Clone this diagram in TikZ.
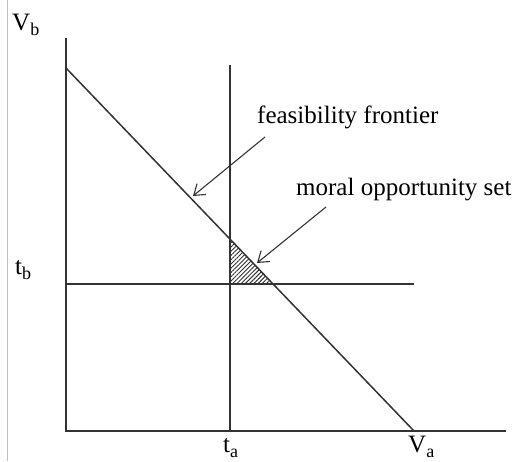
\documentclass[tikz,border=0pt]{standalone}
\usepackage{fontspec}
\setmainfont{Liberation Serif}
\usetikzlibrary{arrows.meta,patterns.meta}
\newcommand{\sbs}[1]{\raisebox{-0.22em}{\fontsize{18}{18}\selectfont #1}}
\tikzset{
  ln/.style={draw=black!80, line width=1.5pt},
  lbl/.style={inner sep=0pt, anchor=base west, font=\fontsize{25}{25}\selectfont},
  arr/.style={ln, line width=1.1pt, -{Straight Barb[length=10pt,width=14pt,line width=1.1pt]}}
}
\begin{document}
\begin{tikzpicture}[x=1pt,y=-1pt]
\useasboundingbox (0,0) rectangle (527,461);
\draw[black!25, line width=1.2pt] (7.5,0) -- (7.5,461);
\coordinate (O) at (66,431);
\coordinate (Ytop) at (66,38);
\coordinate (Xend) at (506,431);
\coordinate (F1) at (66,68);
\coordinate (F2) at (414,431);
\coordinate (Ta1) at (230,65);
\coordinate (Ta2) at (230,431);
\coordinate (Tb1) at (66,284);
\coordinate (Tb2) at (414,284);
\coordinate (H1) at (230,239);
\coordinate (H2) at (230,284);
\coordinate (H3) at (273.5,284);
\fill[pattern={Lines[angle=45,distance=3pt,line width=0.9pt]}, pattern color=black!80] (H1) -- (H2) -- (H3) -- cycle;
\draw[ln] (Ytop) -- (O) -- (Xend);
\draw[ln] (F1) -- (F2);
\draw[ln] (Ta1) -- (Ta2);
\draw[ln] (Tb1) -- (Tb2);
\node[lbl] (vb) at (12,30) {V\sbs{b}};
\node[lbl] (tb) at (15,274) {t\sbs{b}};
\node[lbl] (ta) at (223,452) {t\sbs{a}};
\node[lbl] (va) at (408,452) {V\sbs{a}};
\node[lbl] (ff) at (257,123) {feasibility frontier};
\node[lbl] (mo) at (296,195) {moral opportunity set};
\coordinate (A1s) at (265,137);
\coordinate (A1e) at (193,196);
\coordinate (A2s) at (326,207);
\coordinate (A2e) at (257,263);
\draw[arr] (A1s) -- (A1e);
\draw[arr] (A2s) -- (A2e);
\end{tikzpicture}
\end{document}
